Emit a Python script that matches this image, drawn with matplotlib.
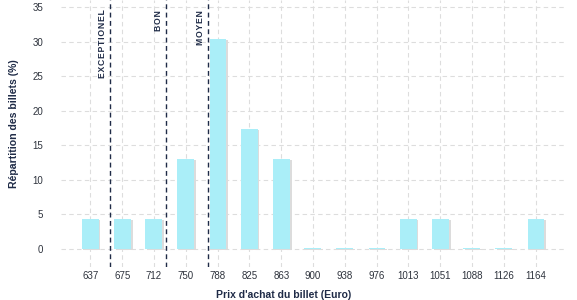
import matplotlib
matplotlib.use("Agg")
import matplotlib.pyplot as plt
import matplotlib.patheffects as pe

# Data
price_labels = ["637", "675", "712", "750", "788", "825", "863", "900", "938",
                "976", "1013", "1051", "1088", "1126", "1164"]
share_pct = [4.35, 4.35, 4.35, 13.04, 30.43, 17.39, 13.04, 0.2, 0.2,
             0.2, 4.35, 4.35, 0.2, 0.2, 4.35]
threshold_names = ["EXCEPTIONEL", "BON", "MOYEN"]
threshold_prices = [660.6, 726.8, 776.7]
y_ticks = [0, 5, 10, 15, 20, 25, 30, 35]

plt.rcParams["font.family"] = ["Liberation Sans", "DejaVu Sans"]

fig = plt.figure(figsize=(5.77, 3.0), dpi=100)
W, H = 577, 300
ax = fig.add_axes([61 / W, 1 - 267 / H, (567 - 61) / W, 267 / H])

xs = [float(p) for p in price_labels]
bars = ax.bar(xs, share_pct, width=20, color="#aaeef8", zorder=3)
for b in bars:
    b.set_path_effects([pe.SimplePatchShadow(offset=(1.2, -0.8), shadow_rgbFace="#dcdcdc", alpha=1.0),
                        pe.Normal()])

navy = "#1f2b47"
for name, thr in zip(threshold_names, threshold_prices):
    ax.axvline(thr, color=navy, lw=1.0, ls=(0, (3.5, 2.5)), zorder=4)
    spaced = "\u200a".join(name)
    ax.annotate(spaced, xy=(thr, 36), xytext=(-2.6, -7.0), textcoords="offset points",
                rotation=90, ha="right", va="top", fontsize=6.2, fontweight="bold",
                color=navy, zorder=5)

ax.set_xlim(602.4, 1200.6)
ax.set_ylim(-2.6, 36.0)
ax.set_xticks(xs)
ax.set_xticklabels(price_labels)
ax.set_yticks(y_ticks)
ax.tick_params(axis="both", length=0, labelsize=7, labelcolor="#2e333d")
ax.tick_params(axis="y", pad=13)
ax.tick_params(axis="x", pad=3)
ax.grid(True, color="#dddddd", lw=0.8, ls=(0, (4, 3)), zorder=0)
for s in ax.spines.values():
    s.set_visible(False)

fig.text(284 / W, 1 - 295 / H, "Prix d'achat du billet (Euro)", ha="center", va="center",
         fontsize=7.5, fontweight="bold", color=navy)
fig.text(14 / W, 1 - 124 / H, "Répartition des billets (%)", ha="center", va="center",
         rotation=90, fontsize=7.6, fontweight="bold", color=navy)

fig.savefig("out.png", dpi=100)
